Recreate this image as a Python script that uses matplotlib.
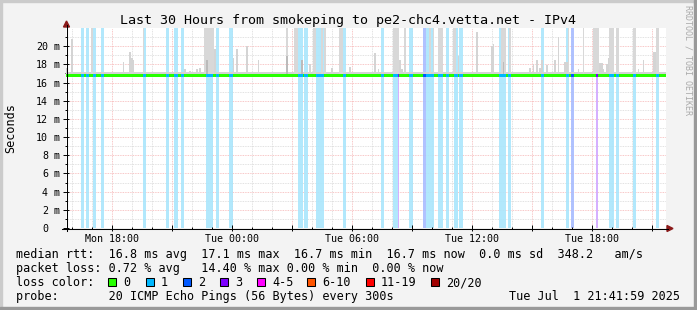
import matplotlib
matplotlib.use('Agg')
import numpy as np
import matplotlib.pyplot as plt
import matplotlib.transforms as mtransforms
from matplotlib.patches import Rectangle, Polygon
from matplotlib.lines import Line2D

W, H = 697, 310
MONO = 'DejaVu Sans Mono'

title = 'Last 30 Hours from smokeping to pe2-chc4.vetta.net - IPv4'

# time in hours since Mon 00:00, one rrd step = 300 s
t_start = 15.7
step_h = 300 / 3600
n_steps = 360

day_ticks = [18, 24, 30, 36, 42]
day_labels = ['Mon 18:00', 'Tue 00:00', 'Tue 06:00', 'Tue 12:00', 'Tue 18:00']

# median rtt (ms) and the normal smoke band around it
median_ms = 16.82
smoke_low_ms = 16.6
smoke_high_ms = 17.2
y_top_ms = 22

# steps with lost pings (out of 20)
loss1_steps = [9, 10, 12, 13, 16, 17, 21, 22, 46, 47, 60, 61, 65, 66, 69, 70,
               84, 85, 86, 87, 90, 91, 98, 99, 139, 140, 141, 143, 144,
               150, 151, 152, 153, 154, 166, 167, 189, 190, 196, 197, 198,
               206, 207, 216, 217, 218, 219, 220, 223, 224, 225, 228, 229,
               233, 234, 236, 237, 260, 261, 262, 263, 265, 266, 285, 286,
               300, 301, 326, 327, 328, 330, 331, 340, 341, 354, 355]
loss2_steps = [214, 215, 303, 304]
loss3_steps = [199, 318]

# smoke reaching above the top of the graph
smoke_full_steps = [15, 46, 83, 84, 85, 86, 87, 88, 132, 137, 138, 148, 149,
                    153, 155, 164, 165, 196, 197, 198, 199, 203, 218, 220,
                    223, 224, 225, 232, 233, 261, 262, 263, 266, 301, 310,
                    316, 317, 318, 319, 326, 327, 328, 330, 331, 340, 341,
                    354, 355]
# single smoke spikes (max ping of the step)
spike_steps = [0, 3, 34, 38, 39, 40, 71, 74, 78, 80, 89, 100, 102, 108, 115,
               146, 159, 170, 185, 187, 200, 201, 235, 246, 255, 256, 278,
               280, 282, 284, 285, 288, 293, 295, 299, 300, 307, 320, 321,
               322, 324, 325, 343, 346, 352, 353]
spike_ms = [17.6, 20.8, 18.3, 19.4, 18.7, 18.5, 17.5, 17.3, 17.5, 17.6, 19.7,
            18.7, 19.7, 20.0, 18.5, 18.0, 17.6, 17.7, 19.2, 17.5, 18.5, 17.5,
            18.9, 21.6, 20.0, 20.2, 17.6, 18.0, 18.5, 17.6, 18.5, 17.9, 18.5,
            21.0, 18.3, 18.3, 17.5, 18.2, 18.1, 17.5, 18.0, 18.7, 17.5, 18.5,
            19.4, 19.4]
# darker smoke cores
core_steps = [84, 132, 141, 262]
core_ms = [18.5, 18.9, 18.5, 18.3]

loss_line_colors = {0: '#26ff00', 1: '#00b8ff', 2: '#0059ff', 3: '#7e00ff'}
loss_bg_colors = {1: '#aae6fc', 2: '#a8bcff', 3: '#d2a8ff'}

legend_names = ['0', '1', '2', '3', '4-5', '6-10', '11-19', '20/20']
legend_colors = ['#26ff00', '#00b8ff', '#0059ff', '#7e00ff', '#ff00ff',
                 '#ff5500', '#ff0000', '#a10000']
legend_box_x = [108, 146, 183, 220, 257, 307, 366, 431]

row_rtt = 'median rtt:  16.8 ms avg  17.1 ms max  16.7 ms min  16.7 ms now  0.0 ms sd  348.2   am/s'
row_loss = 'packet loss: 0.72 % avg   14.40 % max 0.00 % min  0.00 % now'
row_probe = 'probe:       20 ICMP Echo Pings (56 Bytes) every 300s'
stamp = 'Tue Jul  1 21:41:59 2025'


def fx(px):
    return px / W


def fy(py):
    return 1 - py / H


fig = plt.figure(figsize=(W / 100, H / 100), dpi=100)
fig.patch.set_facecolor('#f3f3f3')
ax = fig.add_axes([fx(66), fy(228), 600 / W, 200 / H])
ax.set_facecolor('white')
ax.set_xlim(t_start, t_start + n_steps * step_h)
ax.set_ylim(0, y_top_ms)
for s in ax.spines.values():
    s.set_visible(False)

# grid
dot = (0, (1, 1))
for h in range(16, 46):
    c = '#f6b4b4' if h % 3 == 0 else '#d8d8d8'
    ax.axvline(h, color=c, lw=0.6, ls=dot, zorder=0.5)
for v in range(1, 22):
    c = '#f6b4b4' if v % 2 == 0 else '#d8d8d8'
    ax.axhline(v, color=c, lw=0.6, ls=dot, zorder=0.5)

x_step = t_start + np.arange(n_steps) * step_h

loss = np.zeros(n_steps, dtype=int)
loss[loss1_steps] = 1
loss[loss2_steps] = 2
loss[loss3_steps] = 3

# loss background bars
for k in (1, 2, 3):
    idx = np.where(loss == k)[0]
    ax.bar(x_step[idx], y_top_ms, bottom=0, width=step_h, align='edge',
           color=loss_bg_colors[k], alpha=0.9, linewidth=0, zorder=1)

# smoke
ax.bar(x_step, smoke_high_ms - smoke_low_ms, bottom=smoke_low_ms, width=step_h,
       align='edge', color='#d4d4d4', linewidth=0, zorder=2)
sp = np.array(spike_steps)
ax.bar(x_step[sp], np.array(spike_ms) - smoke_low_ms, bottom=smoke_low_ms,
       width=step_h, align='edge', color='#d4d4d4', linewidth=0, zorder=2)
fs = np.array(smoke_full_steps)
ax.bar(x_step[fs], y_top_ms - smoke_low_ms, bottom=smoke_low_ms, width=step_h,
       align='edge', color='#d8d8d8', linewidth=0, zorder=2)
cs = np.array(core_steps)
ax.bar(x_step[cs], np.array(core_ms) - smoke_low_ms, bottom=smoke_low_ms,
       width=step_h, align='edge', color='#bbbbbb', linewidth=0, zorder=2.1)

# median coloured by loss
band_colors = [loss_line_colors[k] for k in loss]
ax.bar(x_step, 0.32, bottom=median_ms - 0.16, width=step_h, align='edge',
       color=band_colors, linewidth=0, zorder=3)

# ticks
ax.set_xticks(range(18, 46, 3))
ax.set_xticks(range(16, 46), minor=True)
ax.set_yticks(range(0, 22, 2))
ax.set_yticks(range(1, 22), minor=True)
ax.tick_params(which='major', direction='inout', length=4, width=0.7,
               labelbottom=False, labelleft=False, color='black')
ax.tick_params(which='minor', direction='inout', length=2, width=0.7,
               color='black')

# y labels
ytr = mtransforms.blended_transform_factory(fig.transFigure, ax.transData)
for v in range(0, 21, 2):
    ax.text(fx(48), v, str(v), transform=ytr, ha='right', va='center_baseline',
            family=MONO, size=7.2)
    if v:
        ax.text(fx(54), v, 'm', transform=ytr, ha='left', va='center_baseline',
                family=MONO, size=7.2)

# x labels
xtr = mtransforms.blended_transform_factory(ax.transData, fig.transFigure)
for t, lab in zip(day_ticks, day_labels):
    ax.text(t, fy(241.5), lab, transform=xtr, ha='center', va='baseline',
            family=MONO, size=7.2)

# axes with arrows
fig.add_artist(Line2D([fx(62), fx(668)], [fy(228.5)] * 2, color='black', lw=0.75))
fig.add_artist(Line2D([fx(66.5)] * 2, [fy(231), fy(25)], color='black', lw=0.75))
arrow_c = '#8b1a1a'
fig.add_artist(Polygon([(fx(63.5), fy(27)), (fx(69.5), fy(27)), (fx(66.5), fy(21))],
                       closed=True, color=arrow_c, transform=fig.transFigure))
fig.add_artist(Polygon([(fx(667), fy(225.5)), (fx(667), fy(231.5)), (fx(673), fy(228.5))],
                       closed=True, color=arrow_c, transform=fig.transFigure))

# titles
fig.text(fx(348.5), fy(24), title, ha='center', va='baseline', family=MONO, size=9.6)
fig.text(fx(11), fy(128), 'Seconds', rotation=90, ha='center', va='center',
         family=MONO, size=8.5)
fig.text(fx(688), fy(5), 'RRDTOOL / TOBI OETIKER', rotation=270, ha='center',
         va='top', family=MONO, size=6, color='#aaaaaa')

# legend
fig.text(fx(16), fy(258.3), row_rtt, ha='left', va='baseline', family=MONO, size=8.5)
fig.text(fx(16), fy(272.2), row_loss, ha='left', va='baseline', family=MONO, size=8.5)
fig.text(fx(16), fy(286.1), 'loss color:', ha='left', va='baseline', family=MONO, size=8.5)
for bx, name, col in zip(legend_box_x, legend_names, legend_colors):
    fig.add_artist(Rectangle((fx(bx), fy(286)), 8 / W, 8 / H, facecolor=col,
                             edgecolor='black', lw=0.75, transform=fig.transFigure))
    fig.text(fx(bx + 15), fy(286.1), name, ha='left', va='baseline', family=MONO, size=8.5)
fig.text(fx(16), fy(300), row_probe, ha='left', va='baseline', family=MONO, size=8.5)
fig.text(fx(680), fy(300), stamp, ha='right', va='baseline', family=MONO, size=8.5)

# frame shading
fig.add_artist(Rectangle((0, fy(2)), 1, 2 / H, color='#cbcbcb', transform=fig.transFigure))
fig.add_artist(Rectangle((0, 0), 2 / W, 1, color='#cbcbcb', transform=fig.transFigure))
fig.add_artist(Rectangle((0, 0), 1, 3 / H, color='#999999', transform=fig.transFigure))
fig.add_artist(Rectangle((fx(694), 0), 3 / W, 1, color='#999999', transform=fig.transFigure))

fig.savefig('out.png', dpi=100, facecolor=fig.get_facecolor())
